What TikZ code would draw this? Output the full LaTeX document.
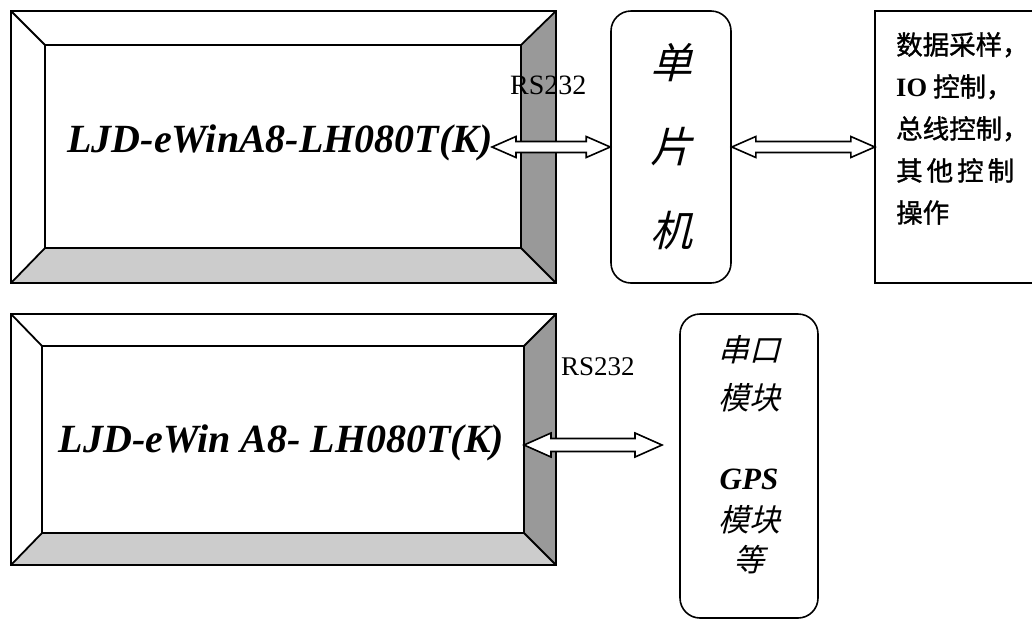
\documentclass[tikz,border=0pt]{standalone}
\usepackage{fontspec}
\setmainfont{Liberation Serif}
\newfontfamily\cjk[FakeBold=1.2]{Noto Sans CJK SC}
\newfontfamily\cjkit[FakeSlant=0.25]{Noto Sans CJK SC}
\usetikzlibrary{calc, positioning}
\definecolor{bevelgray}{RGB}{153,153,153}
\definecolor{bevellight}{RGB}{204,204,204}

\tikzset{
  frameline/.style={line width=1.8pt, black},
  roundbox/.style={draw, line width=1.6pt, rounded corners=20pt, inner sep=0pt},
  hollowtip/.style={draw, fill=white, line width=1.6pt, line join=miter},
}

% hollow double-headed arrow between two named points
\def\headlen{24pt}
\def\headhw{10.5pt}
\def\shafthw{5.5pt}
\newcommand{\hollowarrow}[2]{%
  \draw[hollowtip] let \p1=(#1), \p2=(#2) in
    (\x1,\y1) -- (\x1+\headlen,\y1+\headhw) -- (\x1+\headlen,\y1+\shafthw)
    -- (\x2-\headlen,\y1+\shafthw) -- (\x2-\headlen,\y1+\headhw) -- (\x2,\y1)
    -- (\x2-\headlen,\y1-\headhw) -- (\x2-\headlen,\y1-\shafthw)
    -- (\x1+\headlen,\y1-\shafthw) -- (\x1+\headlen,\y1-\headhw) -- cycle;}

\begin{document}
\begin{tikzpicture}[x=1pt, y=-1pt]
    \useasboundingbox (0,0) rectangle (1032,619);

    % Bevelled panels: outer corners (a,b), inner corners (c,d)
    \foreach \xa/\ya/\xb/\yb/\xc/\yc/\xd/\yd in {11/11/556/283/45/45/521/248, 11/314/556/565/42/346/524/533} {
        % right and bottom bevel shading
        \fill[bevelgray] (\xb,\ya) -- (\xb,\yb) -- (\xd,\yd) -- (\xd,\yc) -- cycle;
        \fill[bevellight] (\xa,\yb) -- (\xb,\yb) -- (\xd,\yd) -- (\xc,\yd) -- cycle;
        % outlines
        \draw[frameline] (\xa,\ya) rectangle (\xb,\yb);
        \draw[frameline] (\xc,\yc) rectangle (\xd,\yd);
        \draw[frameline] (\xa,\ya) -- (\xc,\yc) (\xb,\ya) -- (\xd,\yc)
                         (\xb,\yb) -- (\xd,\yd) (\xa,\yb) -- (\xc,\yd);
    }

    % Panel labels
    \node[font=\fontsize{40}{48}\selectfont\bfseries\itshape, anchor=base, inner sep=0pt] (lcd1) at (280,152) {LJD-eWinA8-LH080T(K)};
    \node[font=\fontsize{40}{48}\selectfont\bfseries\itshape, anchor=base, inner sep=0pt] (lcd2) at (281.5,452) {LJD-eWin A8- LH080T(K)};

    % Microcontroller box
    \node[roundbox, minimum width=120, minimum height=272, align=center,
          font=\cjkit\fontsize{42}{84}\selectfont] (mcu) at (671,147) {单\\片\\机};

    % Control box (open on the right, runs off the page)
    \node[minimum width=157, minimum height=272, inner sep=0pt] (ctrl) at (953.5,147) {};
    \draw[line width=1.6pt] (ctrl.north east) -- (ctrl.north west) -- (ctrl.south west) -- (ctrl.south east);
    \node[anchor=north west, align=left, inner sep=0pt,
          font=\cjk\fontsize{26.5}{42}\selectfont] (ctrltxt) at (896,32)
          {数据采样，\\{\rmfamily\bfseries IO} 控制，\\总线控制，\\其\hspace{4pt}他\hspace{4pt}控\hspace{4pt}制\\操作};

    % Serial module box
    \node[roundbox, minimum width=138, minimum height=304] (ser) at (749,466) {};
    \node[anchor=north, align=center, inner sep=0pt,
          font=\cjkit\fontsize{31}{40}\selectfont] (sertxt) at (749,335)
          {串口\\[8pt]模块\\[40pt]{\rmfamily\bfseries\itshape GPS}\\[2pt]模块\\等};

    % Top link arrows
    \coordinate (a1-l) at (492,147);
    \hollowarrow{a1-l}{mcu.west}
    \hollowarrow{mcu.east}{ctrl.west}

    % Bottom link arrow (a bit larger)
    \def\headlen{27pt}
    \def\headhw{12pt}
    \def\shafthw{6.5pt}
    \coordinate (a3-l) at (524,445);
    \coordinate (a3-r) at (662,445);
    \hollowarrow{a3-l}{a3-r}

    % Interface labels
    \node[font=\fontsize{28}{30}\selectfont, anchor=base west, inner sep=0pt] (rs1) at (510,94) {RS232};
    \node[font=\fontsize{27}{30}\selectfont, anchor=base west, inner sep=0pt] (rs2) at (561,375) {RS232};
\end{tikzpicture}
\end{document}
